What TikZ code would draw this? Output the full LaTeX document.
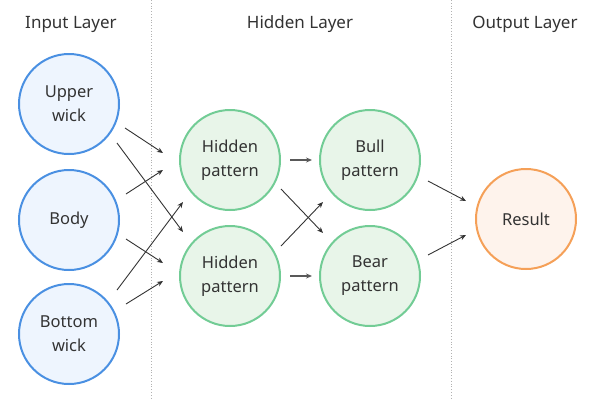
\documentclass[tikz,border=0pt]{standalone}
\usepackage{fontspec}
\setmainfont{Noto Sans}
\usetikzlibrary{arrows.meta,calc}
\definecolor{inS}{HTML}{4A90E2}
\definecolor{inF}{HTML}{EEF5FE}
\definecolor{hdS}{HTML}{72CC95}
\definecolor{hdF}{HTML}{E8F5E9}
\definecolor{outS}{HTML}{F5A058}
\definecolor{outF}{HTML}{FEF3EC}
\definecolor{txt}{HTML}{333333}
\tikzset{
  neuron/.style={circle, minimum size=100pt, inner sep=0pt, line width=2pt, align=center, text=txt, font=\fontsize{16.5}{24}\selectfont},
  innode/.style={neuron, draw=inS, fill=inF},
  hidnode/.style={neuron, draw=hdS, fill=hdF},
  outnode/.style={neuron, draw=outS, fill=outF},
  header/.style={text=txt, font=\fontsize{17}{20}\selectfont},
  sepline/.style={draw=black!30, dotted, line width=0.8pt},
  conn/.style={draw=black!80, line width=0.9pt, -{Stealth[length=6pt,width=5pt]}},
  hconn/.style={draw=black!65, line width=1.5pt, -{Stealth[length=6pt,width=5pt]}}
}
\begin{document}
\begin{tikzpicture}[x=1pt,y=-1pt]
\useasboundingbox (0,0) rectangle (600,400);
\draw[sepline] (151,0) -- (151,400);
\draw[sepline] (451,0) -- (451,400);
\node[header] (hin) at (71,24.5) {Input Layer};
\node[header] (hhid) at (300,24.5) {Hidden Layer};
\node[header] (hout) at (525,24.5) {Output Layer};

\node[innode] (up) at (69,104) {Upper\\wick};
\node[innode] (body) at (69,220) {Body};
\node[innode] (bot) at (69,334) {Bottom\\wick};
\node[hidnode] (h1) at (230,160) {Hidden\\pattern};
\node[hidnode] (h2) at (230,276) {Hidden\\pattern};
\node[hidnode] (bull) at (370,160) {Bull\\pattern};
\node[hidnode] (bear) at (370,276) {Bear\\pattern};
\node[outnode] (res) at (526,219) {Result};

% connector end points
\coordinate (upa) at ($(up)+(56,24)$);
\coordinate (upb) at ($(up)+(48,39)$);
\coordinate (bodya) at ($(body)+(57,-26)$);
\coordinate (bodyb) at ($(body)+(57,19)$);
\coordinate (bota) at ($(bot)+(48,-44)$);
\coordinate (botb) at ($(bot)+(57,-30)$);
\coordinate (h1a) at ($(h1)+(-67,-7)$);
\coordinate (h1b) at ($(h1)+(-67,10)$);
\coordinate (h1c) at ($(h1)+(-47,42)$);
\coordinate (h2a) at ($(h2)+(-47,-44)$);
\coordinate (h2b) at ($(h2)+(-67,-13)$);
\coordinate (h2c) at ($(h2)+(-67,5)$);
\coordinate (h1o) at ($(h1)+(51,29)$);
\coordinate (h2o) at ($(h2)+(51,-30)$);
\coordinate (bulli) at ($(bull)+(-47,42)$);
\coordinate (beari) at ($(bear)+(-47,-43)$);
\coordinate (bullo) at ($(bull)+(58,21)$);
\coordinate (bearo) at ($(bear)+(58,-21)$);
\coordinate (resa) at ($(res)+(-60,-18)$);
\coordinate (resb) at ($(res)+(-60,16)$);

\draw[conn] (upa) -- (h1a);
\draw[conn] (upb) -- (h2a);
\draw[conn] (bodya) -- (h1b);
\draw[conn] (bodyb) -- (h2b);
\draw[conn] (bota) -- (h1c);
\draw[conn] (botb) -- (h2c);

\draw[hconn] (h1.east) ++(9,0) coordinate (h1e) -- ($(bull.west)+(-7,0)$);
\draw[hconn] (h2.east) ++(9,0) coordinate (h2e) -- ($(bear.west)+(-7,0)$);
\draw[conn] (h1o) -- (beari);
\draw[conn] (h2o) -- (bulli);

\draw[conn] (bullo) -- (resa);
\draw[conn] (bearo) -- (resb);
\end{tikzpicture}
\end{document}
